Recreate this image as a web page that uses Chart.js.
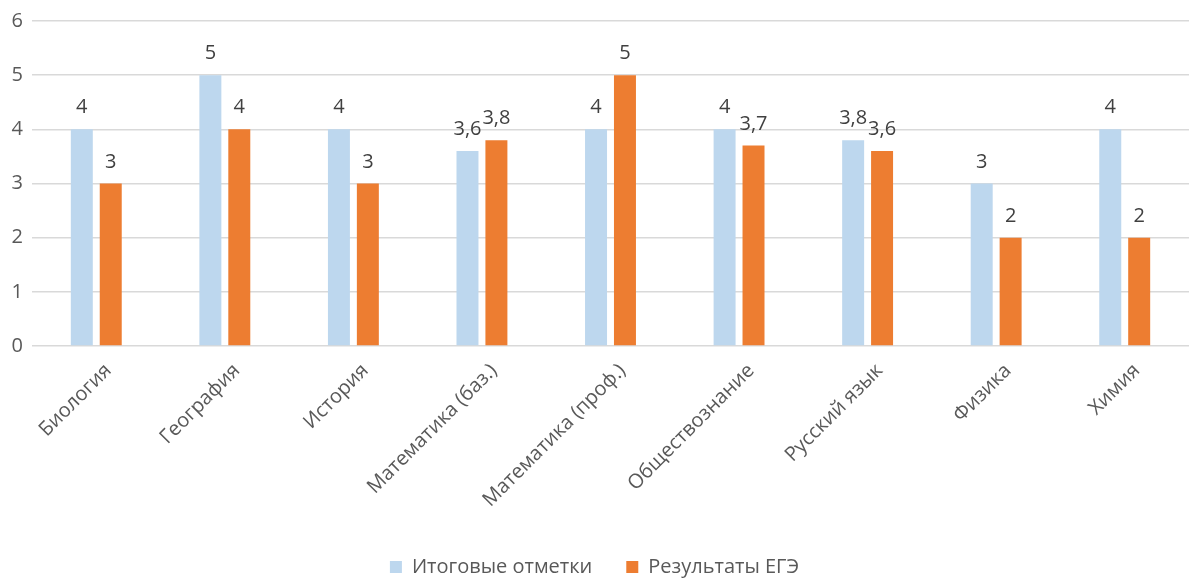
<!DOCTYPE html>
<html>
<head>
<meta charset="utf-8">
<script src="https://cdn.jsdelivr.net/npm/chart.js@4"></script>
<style>
  html, body { margin: 0; padding: 0; background: #fff; }
  #wrap { width: 1193px; height: 578px; }
</style>
</head>
<body>
<div id="wrap"><canvas id="barChart"></canvas></div>
<script>
// Предметы и средние отметки
const subjects = ["Биология", "География", "История", "Математика (баз.)", "Математика (проф.)",
  "Обществознание", "Русский язык", "Физика", "Химия"];
const finalMarks = [4, 5, 4, 3.6, 4, 4, 3.8, 3, 4];
const egeResults = [3, 4, 3, 3.8, 5, 3.7, 3.6, 2, 2];
const yTicks = [0, 1, 2, 3, 4, 5, 6];

const FONT = "'Open Sans', sans-serif";

// подписи значений над столбиками (с запятой)
const valueLabels = {
  id: "valueLabels",
  afterDatasetsDraw(chart) {
    const ctx = chart.ctx;
    ctx.save();
    ctx.font = "20px " + FONT;
    ctx.fillStyle = "#404040";
    ctx.textAlign = "center";
    ctx.textBaseline = "alphabetic";
    chart.data.datasets.forEach((ds, i) => {
      chart.getDatasetMeta(i).data.forEach((bar, j) => {
        const txt = String(ds.data[j]).replace(".", ",");
        ctx.fillText(txt, bar.x, bar.y - 16);
      });
    });
    ctx.restore();
  }
};

const ctxBar = document.getElementById("barChart").getContext("2d");
const barChart = new Chart(ctxBar, {
  type: "bar",
  data: {
    labels: subjects,
    datasets: [
      {
        label: "Итоговые отметки",
        data: finalMarks,
        backgroundColor: "#BDD7EE"
      },
      {
        label: "Результаты ЕГЭ",
        data: egeResults,
        backgroundColor: "#ED7D31"
      }
    ]
  },
  options: {
    responsive: true,
    maintainAspectRatio: false,
    animation: false,
    layout: { padding: { top: 20, right: 4, left: 0, bottom: -9 } },
    datasets: {
      bar: { categoryPercentage: 0.45, barPercentage: 0.76 }
    },
    plugins: {
      legend: {
        position: "bottom",
        labels: {
          boxWidth: 12,
          boxHeight: 12,
          padding: 34,
          color: "#595959",
          font: { family: FONT, size: 20 }
        }
      },
      tooltip: { enabled: false }
    },
    scales: {
      x: {
        grid: { display: false },
        border: { display: false },
        ticks: {
          color: "#595959",
          font: { family: FONT, size: 20 },
          maxRotation: 45,
          minRotation: 45,
          labelOffset: 12,
          padding: 5
        },
        afterFit(scale) { scale.height = 177; }
      },
      y: {
        min: 0,
        max: 6,
        afterBuildTicks(scale) { scale.ticks = yTicks.map(v => ({ value: v })); },
        grid: { color: "#D9D9D9", lineWidth: 1.5, drawTicks: false },
        border: { display: false },
        ticks: {
          color: "#595959",
          font: { family: FONT, size: 20 },
          padding: 9
        },
        afterFit(scale) { scale.width = 32; }
      }
    }
  },
  plugins: [valueLabels]
});
</script>
</body>
</html>
